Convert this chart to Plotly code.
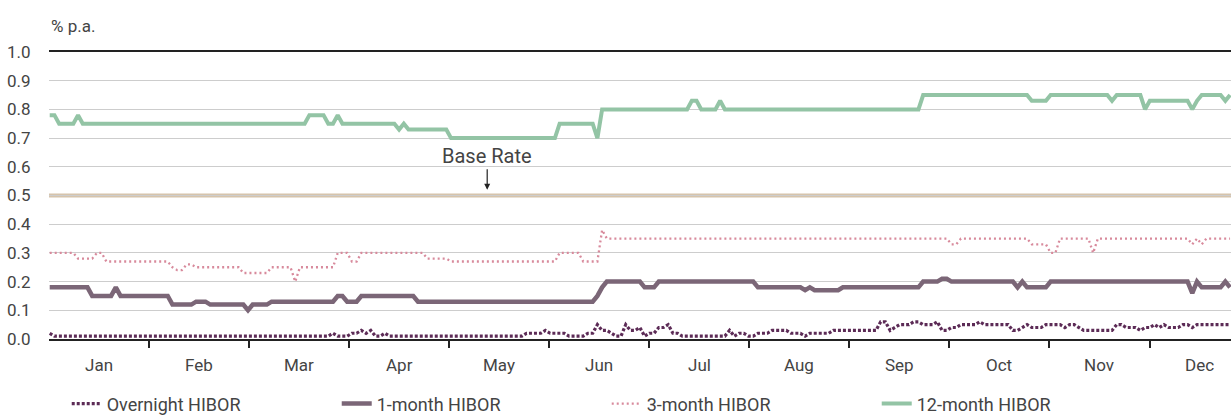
import plotly.graph_objects as go

# ── Data (runs of (rate, trading days held)) ────────────────────────────────
MONTHS = ["Jan", "Feb", "Mar", "Apr", "May", "Jun",
          "Jul", "Aug", "Sep", "Oct", "Nov", "Dec"]

BASE_RATE = 0.5

OVERNIGHT_RUNS = [
    (0.02, 1), (0.01, 59), (0.02, 1), (0.01, 3), (0.02, 2), (0.03, 1),
    (0.02, 1), (0.03, 1), (0.01, 2), (0.02, 1), (0.01, 29), (0.02, 4),
    (0.03, 1), (0.02, 4), (0.01, 4), (0.02, 2), (0.05, 1), (0.03, 2),
    (0.02, 1), (0.01, 2), (0.05, 1), (0.03, 2), (0.04, 1), (0.01, 1),
    (0.02, 2), (0.04, 2), (0.05, 1), (0.02, 2), (0.01, 10), (0.03, 1),
    (0.01, 1), (0.02, 2), (0.01, 2), (0.02, 3), (0.03, 4), (0.02, 3),
    (0.01, 1), (0.02, 5), (0.03, 10), (0.06, 2), (0.03, 1), (0.04, 1),
    (0.05, 3), (0.06, 2), (0.05, 3), (0.06, 1), (0.03, 2), (0.04, 2),
    (0.05, 4), (0.06, 1), (0.05, 6), (0.03, 2), (0.04, 1), (0.05, 1),
    (0.04, 3), (0.05, 4), (0.04, 1), (0.05, 2), (0.04, 1), (0.03, 7),
    (0.05, 2), (0.04, 3), (0.03, 1), (0.04, 2), (0.05, 1), (0.04, 1),
    (0.05, 1), (0.04, 3), (0.05, 2), (0.04, 1), (0.05, 8),
]

ONE_MONTH_RUNS = [
    (0.18, 9), (0.15, 5), (0.18, 1), (0.15, 11), (0.12, 5), (0.13, 3),
    (0.12, 8), (0.10, 1), (0.12, 4), (0.13, 14), (0.15, 2), (0.13, 3),
    (0.15, 12), (0.13, 38), (0.15, 1), (0.18, 1), (0.20, 8), (0.18, 3),
    (0.20, 21), (0.18, 10), (0.17, 1), (0.18, 1), (0.17, 6), (0.18, 17),
    (0.20, 4), (0.21, 2), (0.20, 14), (0.18, 1), (0.20, 1), (0.18, 5),
    (0.20, 30), (0.16, 1), (0.20, 1), (0.18, 5), (0.20, 1), (0.18, 1),
]

THREE_MONTH_RUNS = [
    (0.30, 6), (0.28, 4), (0.30, 2), (0.27, 14), (0.25, 1), (0.24, 2),
    (0.26, 2), (0.25, 10), (0.23, 6), (0.25, 5), (0.20, 1), (0.25, 8),
    (0.30, 3), (0.27, 2), (0.30, 14), (0.28, 5), (0.27, 23), (0.30, 5),
    (0.27, 4), (0.38, 1), (0.35, 73), (0.33, 2), (0.35, 15), (0.33, 4),
    (0.30, 2), (0.35, 7), (0.30, 1), (0.35, 20), (0.33, 1), (0.35, 1),
    (0.33, 1), (0.35, 6),
]

TWELVE_MONTH_RUNS = [
    (0.78, 2), (0.75, 4), (0.78, 1), (0.75, 48), (0.78, 4), (0.75, 2),
    (0.78, 1), (0.75, 12), (0.73, 1), (0.75, 1), (0.73, 9), (0.70, 23),
    (0.75, 8), (0.70, 1), (0.80, 19), (0.83, 2), (0.80, 4), (0.83, 1),
    (0.80, 42), (0.85, 23), (0.83, 4), (0.85, 13), (0.83, 1), (0.85, 6),
    (0.80, 1), (0.83, 9), (0.80, 1), (0.83, 1), (0.85, 5), (0.83, 1),
    (0.85, 1),
]

# ── Styling ────────────────────────────────────────────────────────────────
INK = "#444444"
GRID = "#cdcdcd"
FONT = "Roboto, Arial, sans-serif"

C_OVERNIGHT = "#5c2b56"
C_ONE = "#7b6677"
C_THREE = "#d88a9c"
C_TWELVE = "#93c4a5"
C_BASE = "#d6c4ac"

MONTH_SPAN = 21.19   # trading days per month on the axis
X_OFFSET = -0.15


def expand(runs):
    out = []
    for value, n in runs:
        out += [value] * n
    return out


overnight = expand(OVERNIGHT_RUNS)
one_month = expand(ONE_MONTH_RUNS)
three_month = expand(THREE_MONTH_RUNS)
twelve_month = expand(TWELVE_MONTH_RUNS)
days = list(range(len(one_month)))

fig = go.Figure()

fig.add_hline(y=BASE_RATE, line=dict(color=C_BASE, width=4), layer="below")

fig.add_trace(go.Scatter(
    x=days, y=overnight, mode="lines", name="Overnight HIBOR",
    line=dict(color=C_OVERNIGHT, width=3.2, dash="3px,2px"),
))
fig.add_trace(go.Scatter(
    x=days, y=one_month, mode="lines", name="1-month HIBOR",
    line=dict(color=C_ONE, width=4.5),
))
fig.add_trace(go.Scatter(
    x=days, y=three_month, mode="lines", name="3-month HIBOR",
    line=dict(color=C_THREE, width=2.3, dash="2px,3px"),
))
fig.add_trace(go.Scatter(
    x=days, y=twelve_month, mode="lines", name="12-month HIBOR",
    line=dict(color=C_TWELVE, width=4),
))

# month boundaries carry the ticks, labels sit mid-month
bounds = [k * MONTH_SPAN + X_OFFSET for k in range(1, 12)]
for k, m in enumerate(MONTHS):
    fig.add_annotation(
        x=(k + 0.5) * MONTH_SPAN + X_OFFSET, y=0, xref="x", yref="y",
        text=m, showarrow=False, yanchor="middle", yshift=-26,
        font=dict(family=FONT, size=17, color=INK),
    )

# arrow into the Base Rate line, mid-May
fig.add_annotation(
    x=4.38 * MONTH_SPAN + X_OFFSET, y=0.52, xref="x", yref="y",
    text="Base Rate", showarrow=True, ax=0, ay=-34,
    arrowhead=2, arrowsize=1, arrowwidth=1.2, arrowcolor="#222",
    font=dict(family=FONT, size=20, color=INK),
)

fig.add_annotation(
    x=0, y=1, xref="paper", yref="paper", xanchor="left", yanchor="middle",
    yshift=26, text="% p.a.", showarrow=False,
    font=dict(family=FONT, size=17, color=INK),
)

fig.update_layout(
    width=1231, height=418,
    margin=dict(l=49, r=0, t=52, b=79, autoexpand=False),
    paper_bgcolor="white", plot_bgcolor="white",
    font=dict(family=FONT, size=17, color=INK),
    legend=dict(
        orientation="h", x=0.015, xanchor="left", y=-0.226, yanchor="middle",
        entrywidth=225, entrywidthmode="pixels",
        font=dict(family=FONT, size=18, color=INK),
        bgcolor="rgba(0,0,0,0)",
    ),
    xaxis=dict(
        range=[X_OFFSET, 250.2],
        tickvals=bounds, ticktext=[""] * len(bounds),
        ticks="outside", ticklen=7, tickwidth=1.5, tickcolor="#222",
        showgrid=False, zeroline=False,
        showline=True, linecolor="#222", linewidth=2, mirror=True,
    ),
    yaxis=dict(
        range=[0, 1.0], tickvals=[i / 10 for i in range(11)], tickformat=".1f",
        ticks="outside", ticklen=14, tickcolor="rgba(0,0,0,0)",
        showgrid=True, gridcolor=GRID, gridwidth=1, zeroline=False,
        showline=False,
        tickfont=dict(family=FONT, size=17, color=INK),
    ),
)

# the page's default 8px body margin would shift the fixed-size figure
fig.write_html(
    "out.html",
    config={"displayModeBar": False},
    post_script="document.body.style.margin='0';document.body.style.overflow='hidden';",
)
